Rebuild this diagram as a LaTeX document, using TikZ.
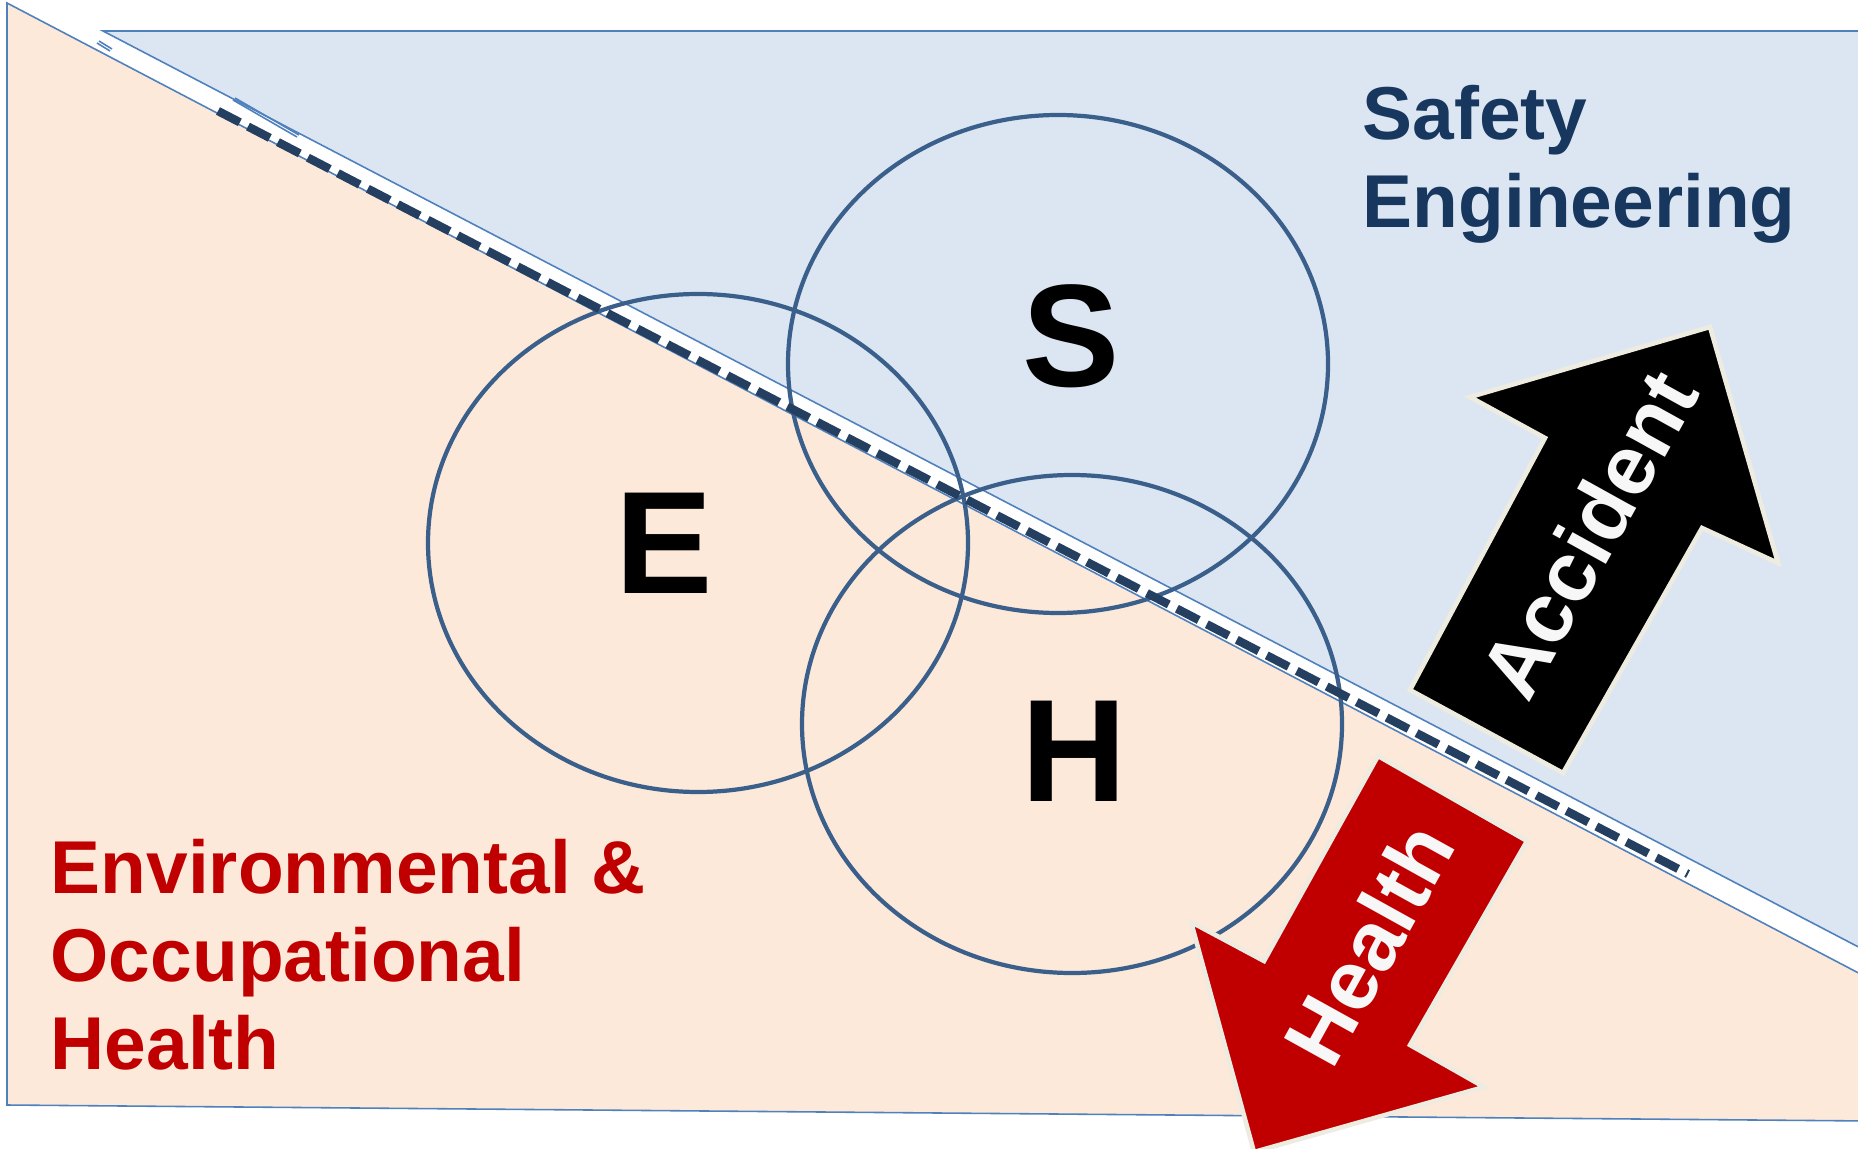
\documentclass[tikz,border=0pt]{standalone}
\usepackage{fontspec}
\setmainfont{Liberation Sans}

\definecolor{peach}{HTML}{FDE9D9}
\definecolor{skyfill}{HTML}{DCE6F2}
\definecolor{edgeblue}{HTML}{4F81BD}
\definecolor{ringblue}{HTML}{3A5F8B}
\definecolor{dashnavy}{HTML}{243F60}
\definecolor{navytext}{HTML}{17375E}
\definecolor{darkred}{HTML}{C00000}
\definecolor{cream}{HTML}{EEECE1}

\begin{document}
\begin{tikzpicture}[x=0.01cm,y=-0.01cm,font=\bfseries,
	edge/.style={draw=edgeblue,line width=0.45pt},
	ring/.style={draw=ringblue,line width=1.2pt},
	bigarrow/.style={draw=cream,line width=1.3pt,line join=miter},
	letter/.style={inner sep=0,font=\fontsize{41.5}{50}\selectfont\bfseries},
	zone/.style={inner sep=0,anchor=north west,align=left,font=\fontsize{21.3}{25}\selectfont\bfseries},
	arrowtext/.style={inner sep=0,rotate=61,text=white!97!black,font=\fontsize{24}{28}\selectfont\bfseries}]
				\clip (0,0) rectangle (1858,1149);
				\fill[white] (0,0) rectangle (1858,1149);
				\draw[edge,fill=peach] (7,3) -- (7,1105) -- (1870,1121) -- (1870,979) -- cycle;
				\draw[edge,fill=skyfill] (103,31) -- (1870,31) -- (1870,953) -- cycle;
				\draw[edge] (97,43) -- (110,51) (99,41) -- (112,49);
				\draw[edge] (233,100) -- (297,137) (235,98) -- (299,135);
				\foreach \x/\y in {1058/364,698/543,1072/724} {
					\draw[ring] (\x,\y) ellipse [x radius=270,y radius=249];
				}
				\draw[dashnavy,line width=2.4pt,dash pattern=on 7pt off 2.6pt] (218,111) -- (1688,874);
				\node[letter] (S) at (1071,336) {S};
				\node[letter] (E) at (664,543) {E};
				\node[letter] (H) at (1074,751) {H};
				\node[zone,text=navytext] (safety) at (1362,85) {Safety\\Engineering};
				\node[zone,text=darkred] (eoh) at (50,839) {Environmental \&\\Occupational\\Health};
				\draw[bigarrow,fill=black] (1710,327) -- (1778,563) -- (1702,528) -- (1563,773) -- (1410,690) -- (1545,438) -- (1470,397) -- cycle;
				\node[arrowtext] (acc) at (1588,534) {Accident};
				\draw[bigarrow,fill=darkred] (1378,756) -- (1527,841) -- (1410,1045) -- (1484,1087) -- (1254,1152) -- (1191,922) -- (1264,961) -- cycle;
				\node[arrowtext] (hlth) at (1369,944) {Health};
\end{tikzpicture}
\end{document}
